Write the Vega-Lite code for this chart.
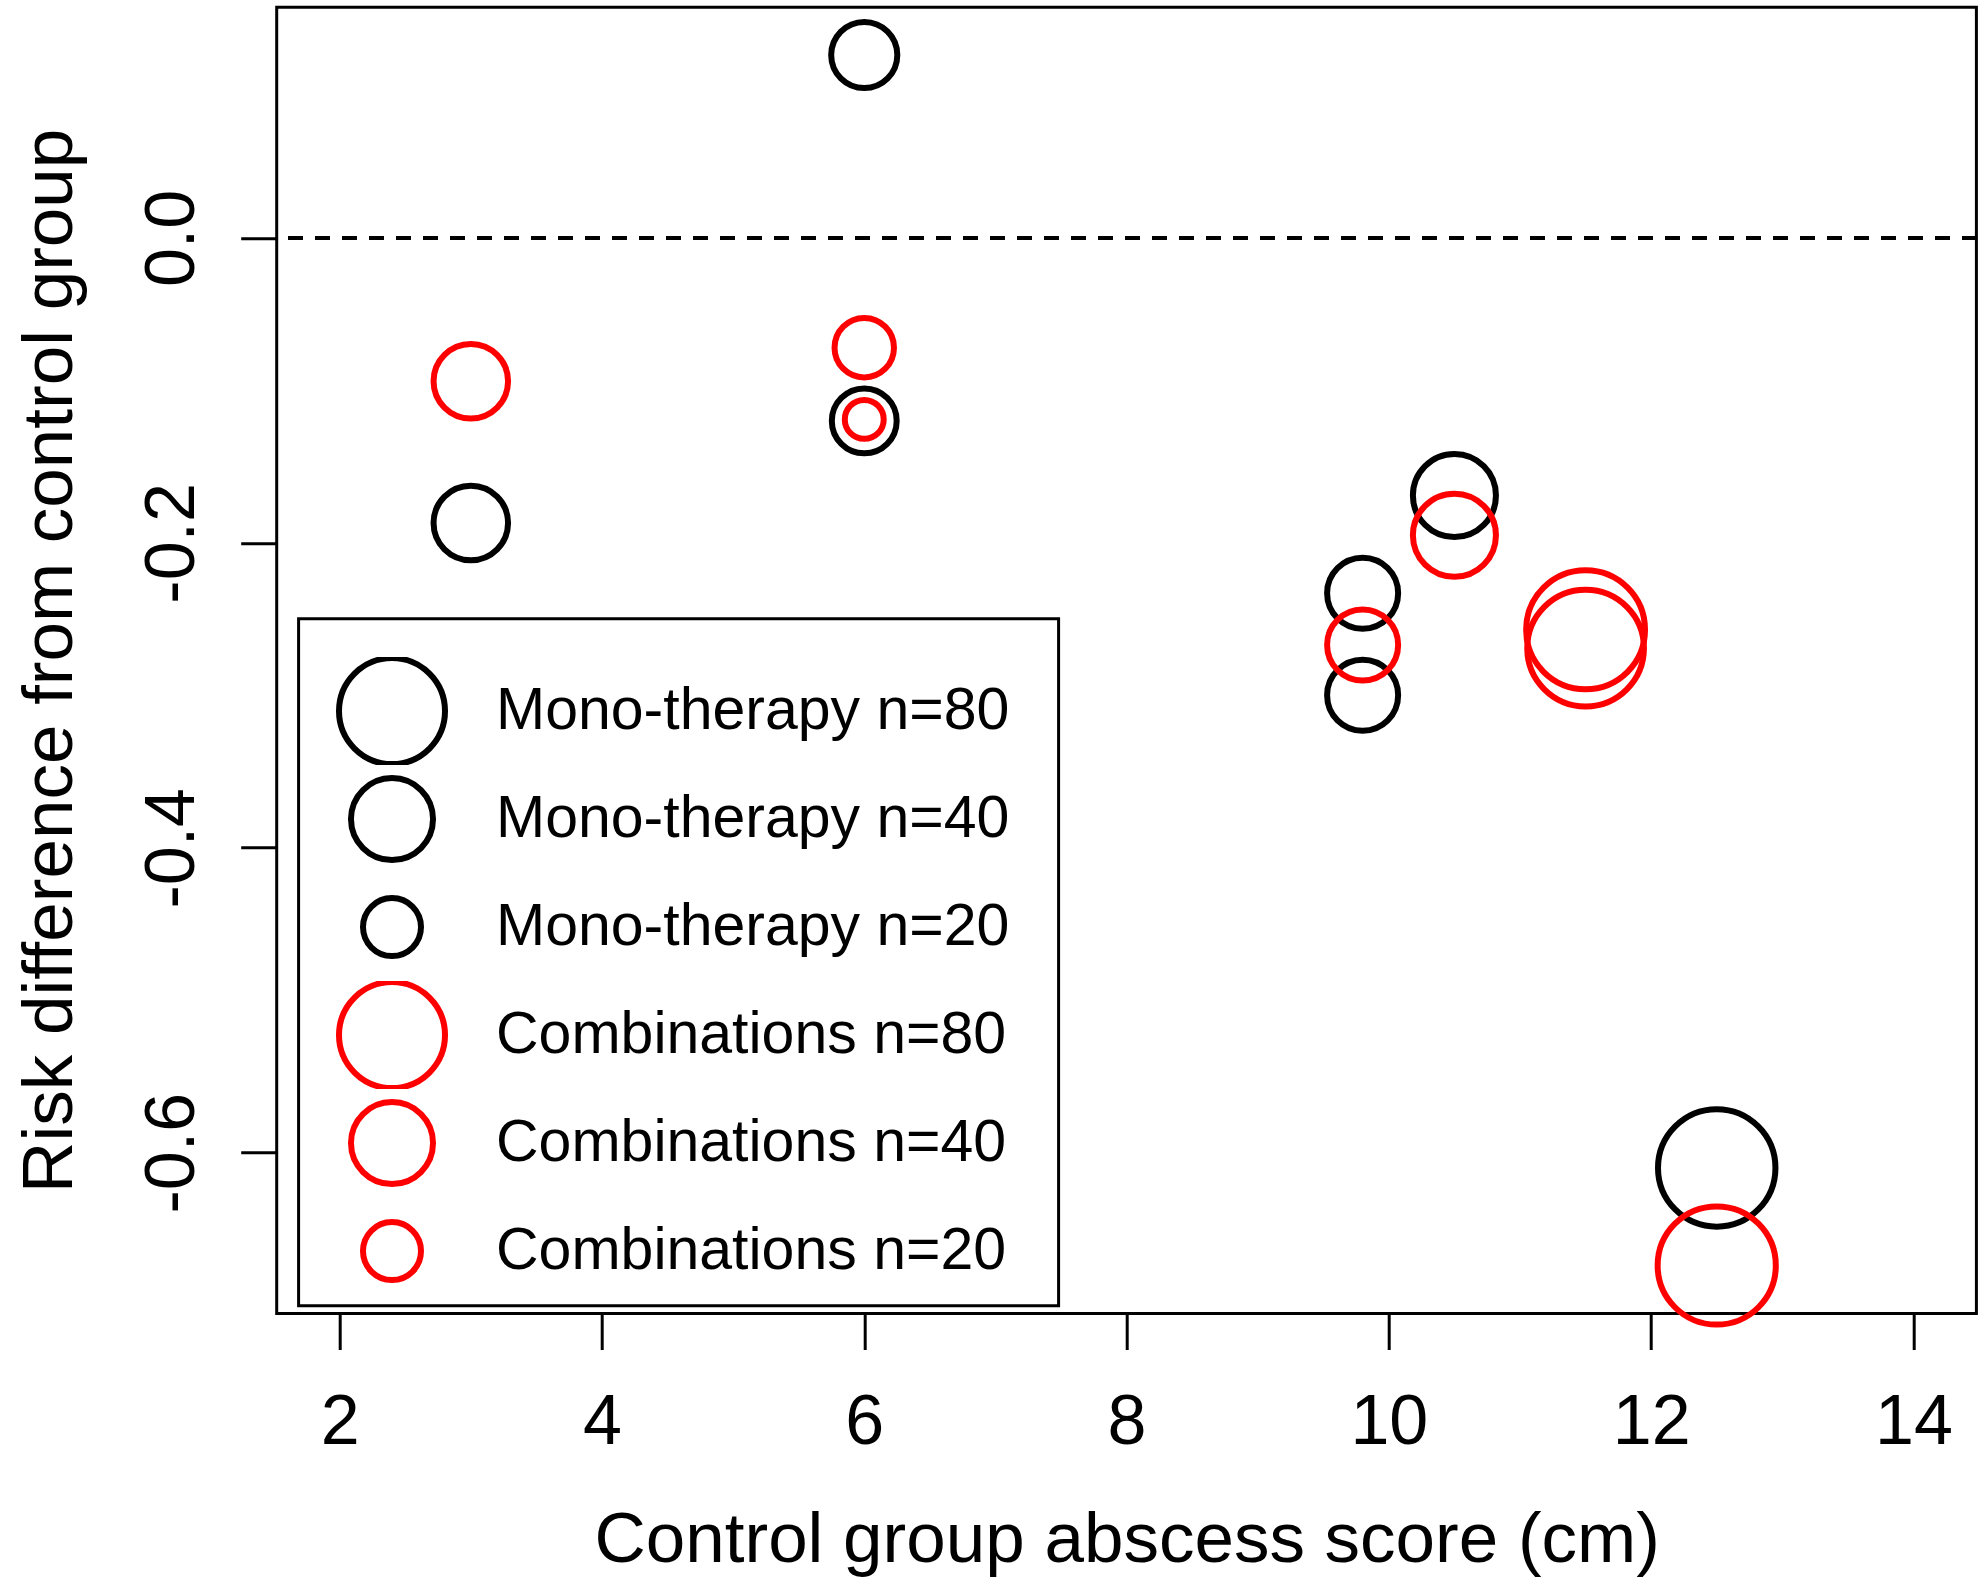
{
  "$schema": "https://vega.github.io/schema/vega-lite/v6.json",
  "width": 1699.7,
  "height": 1306.2,
  "autosize": {"type": "none"},
  "padding": {"left": 276.7, "top": 7.3, "right": 7.6, "bottom": 267.5},
  "background": "white",
  "config": {
    "locale": {"number": {"decimal": ".", "thousands": ",", "grouping": [3], "currency": ["", ""], "minus": "-"}},
    "font": "Liberation Sans",
    "view": {"stroke": "black", "strokeWidth": 3},
    "axis": {
      "domain": false,
      "grid": false,
      "ticks": true,
      "tickSize": 36,
      "tickWidth": 3,
      "tickColor": "black",
      "labelFont": "Liberation Sans",
      "labelFontSize": 70,
      "labelColor": "black",
      "labelFlush": false,
      "labelOverlap": false,
      "labelBound": false,
      "titleFont": "Liberation Sans",
      "titleFontSize": 71,
      "titleFontWeight": "normal",
      "titleColor": "black"
    },
    "legend": {
      "orient": "none",
      "legendX": 21.9,
      "legendY": 611.4,
      "padding": 0,
      "strokeColor": "black",
      "strokeWidth": 3,
      "fillColor": "white",
      "titleFontSize": 24,
      "titlePadding": 14.4,
      "labelFont": "Liberation Sans",
      "labelFontSize": 59,
      "labelColor": "black",
      "labelLimit": 2000,
      "labelOffset": 48,
      "symbolOffset": 37.4,
      "symbolStrokeWidth": 6,
      "symbolType": "circle",
      "clipHeight": 108,
      "rowPadding": 0
    }
  },
  "datasets": {
    "points": [
      {"x": 3, "rd": -0.187, "n": 33, "group": "Mono-therapy"},
      {"x": 6, "rd": 0.120, "n": 26, "group": "Mono-therapy"},
      {"x": 6, "rd": -0.120, "n": 25, "group": "Mono-therapy"},
      {"x": 9.8, "rd": -0.233, "n": 30, "group": "Mono-therapy"},
      {"x": 9.8, "rd": -0.300, "n": 30, "group": "Mono-therapy"},
      {"x": 10.5, "rd": -0.169, "n": 41, "group": "Mono-therapy"},
      {"x": 12.5, "rd": -0.610, "n": 82, "group": "Mono-therapy"},
      {"x": 3, "rd": -0.094, "n": 33, "group": "Combinations"},
      {"x": 6, "rd": -0.072, "n": 21, "group": "Combinations"},
      {"x": 6, "rd": -0.119, "n": 9, "group": "Combinations"},
      {"x": 9.8, "rd": -0.267, "n": 30, "group": "Combinations"},
      {"x": 10.5, "rd": -0.195, "n": 41, "group": "Combinations"},
      {"x": 11.5, "rd": -0.257, "n": 84, "group": "Combinations"},
      {"x": 11.5, "rd": -0.269, "n": 81, "group": "Combinations"},
      {"x": 12.5, "rd": -0.674, "n": 83, "group": "Combinations"}
    ],
    "legendEntries": [
      {"entry": "Mono-therapy n=80"},
      {"entry": "Mono-therapy n=40"},
      {"entry": "Mono-therapy n=20"},
      {"entry": "Combinations n=80"},
      {"entry": "Combinations n=40"},
      {"entry": "Combinations n=20"}
    ]
  },
  "layer": [
    {
      "data": {"name": "points"},
      "mark": {"type": "rule", "strokeDash": [14, 13], "strokeWidth": 3, "color": "black"},
      "encoding": {
        "y": {"datum": 0, "type": "quantitative"}
      }
    },
    {
      "data": {"name": "points"},
      "mark": {"type": "point", "shape": "circle", "filled": false, "strokeWidth": 6, "opacity": 1},
      "encoding": {
        "x": {
          "field": "x", "type": "quantitative",
          "scale": {"domain": [1.52, 14.48], "nice": false, "zero": false},
          "axis": {
            "values": [2, 4, 6, 8, 10, 12, 14],
            "format": "d",
            "title": "Control group abscess score (cm)",
            "labelPadding": 38.5,
            "labelBaseline": "top",
            "titleX": 850,
            "titleY": 248,
            "titleAlign": "center",
            "titleBaseline": "alphabetic"
          }
        },
        "y": {
          "field": "rd", "type": "quantitative",
          "scale": {"domain": [-0.7055, 0.1513], "nice": false, "zero": false},
          "axis": {
            "values": [-0.6, -0.4, -0.2, 0],
            "format": ".1f",
            "title": "Risk difference from control group",
            "labelAngle": 270,
            "labelAlign": "center",
            "labelBaseline": "alphabetic",
            "labelPadding": 47.7,
            "titleAngle": 270,
            "titleX": -205,
            "titleY": 653,
            "titleAlign": "center",
            "titleBaseline": "alphabetic"
          }
        },
        "size": {
          "field": "n", "type": "quantitative",
          "scale": {"type": "linear", "domain": [0, 80], "range": [0, 13456], "zero": true},
          "legend": null
        },
        "stroke": {
          "field": "group", "type": "nominal",
          "scale": {"domain": ["Mono-therapy", "Combinations"], "range": ["#000000", "#ff0000"]},
          "legend": null
        }
      }
    },
    {
      "data": {"name": "legendEntries"},
      "mark": {"type": "point", "shape": "circle", "filled": false, "strokeWidth": 6, "opacity": 0},
      "encoding": {
        "size": {
          "field": "entry", "type": "nominal",
          "scale": {
            "type": "ordinal",
            "domain": ["Mono-therapy n=80", "Mono-therapy n=40", "Mono-therapy n=20", "Combinations n=80", "Combinations n=40", "Combinations n=20"],
            "range": [11236, 6728, 3364, 11236, 6728, 3364]
          },
          "legend": {"title": " ", "labelExpr": "datum.label + '\u00a0\u00a0\u00a0\u200b'"}
        },
        "stroke": {
          "field": "entry", "type": "nominal",
          "scale": {
            "type": "ordinal",
            "domain": ["Mono-therapy n=80", "Mono-therapy n=40", "Mono-therapy n=20", "Combinations n=80", "Combinations n=40", "Combinations n=20"],
            "range": ["#000000", "#000000", "#000000", "#ff0000", "#ff0000", "#ff0000"]
          },
          "legend": {"title": " ", "labelExpr": "datum.label + '\u00a0\u00a0\u00a0\u200b'"}
        }
      }
    }
  ],
  "resolve": {"scale": {"size": "independent", "stroke": "independent"}, "legend": {"size": "independent", "stroke": "independent"}}
}
